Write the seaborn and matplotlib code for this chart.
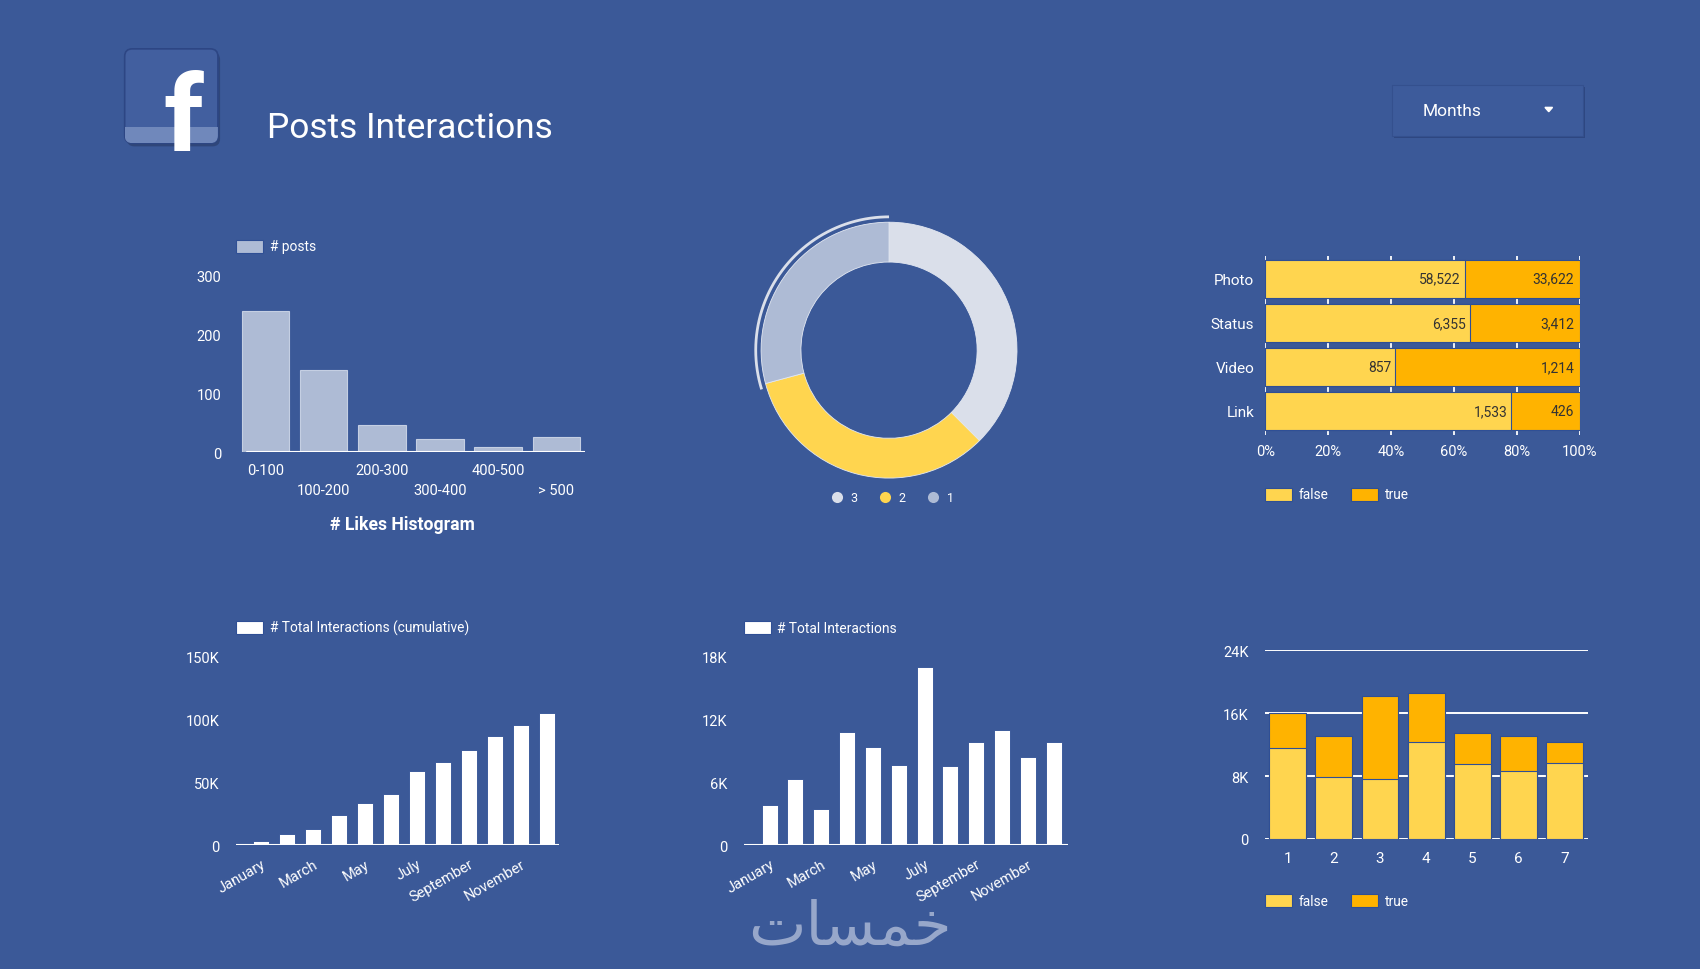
import numpy as np
import seaborn as sns
import matplotlib.pyplot as plt
from matplotlib.patches import FancyBboxPatch, Rectangle, Polygon
from matplotlib.lines import Line2D

# ---- data ----
likes_bins = ['0-100', '100-200', '200-300', '300-400', '400-500', '> 500']
likes_posts = [239, 140, 46, 22, 9, 26]

donut_labels = ['3', '2', '1']
donut_values = [37.5, 33.3, 29.2]

type_names = ['Photo', 'Status', 'Video', 'Link']
type_false = [58522, 6355, 857, 1533]
type_true = [33622, 3412, 1214, 426]

months = ['January', 'February', 'March', 'April', 'May', 'June', 'July',
          'August', 'September', 'October', 'November', 'December']
cumulative = [3400, 9500, 13000, 24000, 34000, 41000, 59000, 66000, 76000, 87000, 96000, 105000]
monthly = [3900, 6300, 3500, 10800, 9400, 7700, 17000, 7600, 9900, 11000, 8400, 9900]

days = ['1', '2', '3', '4', '5', '6', '7']
day_false = [11600, 7900, 7600, 12300, 9500, 8600, 9700]
day_true = [4400, 5200, 10600, 6300, 4000, 4500, 2700]

# ---- style ----
BG = '#3b5998'
EDGE = '#2f4f95'
LIGHT = '#aebbd5'
PALE = '#dadfea'
YEL = '#ffd54f'
ORA = '#ffb300'

sns.set_style('white')
plt.rcParams['font.family'] = ['Roboto', 'DejaVu Sans']
plt.rcParams['text.color'] = 'white'

W, H = 1568, 895  # layout is measured in reference pixels
fig = plt.figure(figsize=(17, 9.7), dpi=100, facecolor=BG)


def panel(l, t, r, b):
    ax = fig.add_axes([l / W, 1 - b / H, (r - l) / W, (b - t) / H])
    ax.set_facecolor('none')
    for s in ax.spines.values():
        s.set_visible(False)
    ax.tick_params(colors='white', length=0, labelsize=10.5)
    ax.set_xlabel('')
    ax.set_ylabel('')
    return ax


def legend_box(x, y, color, label):
    fig.patches.append(Rectangle((x / W, 1 - (y + 6) / H), 25 / W, 12 / H,
                                 transform=fig.transFigure, facecolor=color,
                                 edgecolor=EDGE, lw=0.8))
    fig.text((x + 31) / W, 1 - y / H, label, va='center', ha='left',
             fontsize=9.9, color='white')


def kfmt(v):
    return '0' if v == 0 else f'{int(v / 1000)}K'


# ---- header ----
icon = fig.add_axes([110 / W, 1 - 140 / H, 98 / W, 98 / H])
icon.set_xlim(110, 208)
icon.set_ylim(140, 42)
icon.axis('off')
shadow = FancyBboxPatch((117, 49), 86, 87, boxstyle='round,pad=0,rounding_size=7',
                        facecolor='#2a3f6e', edgecolor='none', alpha=0.7)
icon.add_patch(shadow)
box = FancyBboxPatch((115, 46), 86, 87, boxstyle='round,pad=0,rounding_size=7',
                     facecolor='#425f9f', edgecolor='#2d4684', lw=1.2)
icon.add_patch(box)
band = Rectangle((115, 118), 86, 15, facecolor='#7088bb', edgecolor='none')
icon.add_patch(band)
band.set_clip_path(box)
f = icon.text(169, 142, 'f', fontsize=80, fontweight='bold', color='white',
              ha='center', va='baseline', family=['Roboto', 'DejaVu Sans'])
f.set_clip_on(True)
f.set_clip_path(box)

fig.text(246 / W, 1 - 119 / H, 'Posts Interactions', fontsize=25.4, color='white',
         va='center', ha='left')

dd = fig.add_axes([1280 / W, 1 - 130 / H, 184 / W, 55 / H])
dd.set_xlim(1280, 1464)
dd.set_ylim(130, 75)
dd.axis('off')
dd.add_patch(Rectangle((1286, 81), 176, 47, facecolor='#2e4781', edgecolor='none'))
dd.add_patch(Rectangle((1284, 79), 176, 47, facecolor='#3d5b9b', edgecolor='#34508e', lw=0.8))
dd.text(1312, 103, 'Months', fontsize=12.5, color='white', va='center', ha='left')
dd.add_patch(Polygon([[1425, 100], [1432, 100], [1428.5, 104]], facecolor='white'))

# ---- likes histogram ----
ax = panel(218, 255, 540, 418)
sns.barplot(x=likes_bins, y=likes_posts, color=LIGHT, saturation=1, width=0.82,
            edgecolor='#c5cfe3', linewidth=0.8, ax=ax)
ax.set_ylim(0, 300)
ax.set_xlim(-0.5, 5.5)
ax.set_yticks([0, 100, 200, 300])
ax.tick_params(axis='y', pad=11)
ax.tick_params(axis='x', pad=8)
ax.set_xticks(range(len(likes_bins)))
ax.set_xticklabels([b if i % 2 == 0 else '\n' + b for i, b in enumerate(likes_bins)],
                   linespacing=1.5)
ax.axhline(0, color='white', lw=1.5, xmin=0.03)
ax.set_xlabel('')
legend_box(218, 228, LIGHT, '# posts')
fig.text(371 / W, 1 - 484 / H, '# Likes Histogram', fontsize=12.7, fontweight='bold',
         color='white', ha='center', va='center')

# ---- donut ----
ax = fig.add_axes([(820 - 150) / W, 1 - (324 + 150) / H, 300 / W, 300 / H])
ax.set_facecolor('none')
ax.axis('off')
ax.pie(donut_values, colors=[PALE, YEL, LIGHT], startangle=90, counterclock=False,
       radius=0.787, wedgeprops=dict(width=0.245, edgecolor='#e3e8f2', linewidth=0.6))
start = sum(donut_values[:2]) / sum(donut_values) * 360
theta = np.radians(90 - np.linspace(start - 2, 360, 200))
ax.plot(0.82 * np.cos(theta), 0.82 * np.sin(theta), color=PALE, lw=2, solid_capstyle='butt')
ax.set_xlim(-1, 1)
ax.set_ylim(-1, 1)
handles = [Line2D([], [], marker='o', ls='', markersize=8, markerfacecolor=c,
                  markeredgecolor='none') for c in [PALE, YEL, LIGHT]]
ax.legend(handles, donut_labels, ncol=3, loc='center', bbox_to_anchor=(0.5, 1 - 286 / 300),
          frameon=False, handletextpad=0.1, columnspacing=1.2, labelcolor='white',
          fontsize=9)

# ---- type 100% stacked bars ----
ax = panel(1167, 237, 1457, 402)
tot = [a + b for a, b in zip(type_false, type_true)]
pct_false = [100 * a / t for a, t in zip(type_false, tot)]
sns.barplot(y=type_names, x=[100] * 4, orient='h', color=ORA, saturation=1, width=0.86,
            edgecolor=EDGE, linewidth=0.8, ax=ax)
sns.barplot(y=type_names, x=pct_false, orient='h', color=YEL, saturation=1, width=0.86,
            edgecolor=EDGE, linewidth=0.8, ax=ax)
ax.set_ylim(3.54, -0.52)
ax.set_xlim(0, 100)
ax.set_xticks([0, 20, 40, 60, 80, 100])
ax.set_xticklabels([f'{v}%' for v in [0, 20, 40, 60, 80, 100]])
ax.grid(axis='x', color='white', lw=1.3)
ax.set_axisbelow(True)
ax.tick_params(axis='y', pad=8, labelsize=11)
ax.tick_params(axis='x', pad=7)
for i in range(len(type_names)):
    ax.text(pct_false[i] - 1.3, i, f'{type_false[i]:,}', ha='right', va='center',
            fontsize=10, color='#333333')
    ax.text(98.3, i, f'{type_true[i]:,}', ha='right', va='center', fontsize=10,
            color='#333333')
ax.set_xlabel('')
legend_box(1167, 457, YEL, 'false')
legend_box(1246, 457, ORA, 'true')

# ---- cumulative interactions ----
month_labels = [m if i % 2 == 0 else '' for i, m in enumerate(months)]

ax = panel(218, 607, 516, 781)
sns.barplot(x=months, y=cumulative, color='white', saturation=1, width=0.62,
            edgecolor=EDGE, linewidth=0.6, ax=ax)
ax.set_ylim(0, 150000)
ax.set_xlim(-0.96, 11.48)
ax.set_yticks([0, 50000, 100000, 150000])
ax.set_yticklabels([kfmt(v) for v in [0, 50000, 100000, 150000]])
ax.set_xticks(range(12))
ax.set_xticklabels(month_labels, rotation=30, ha='right', rotation_mode='anchor')
ax.tick_params(axis='y', pad=12)
ax.tick_params(axis='x', pad=8)
ax.axhline(0, color='white', lw=1.5)
legend_box(218, 580, 'white', '# Total Interactions (cumulative)')

# ---- monthly interactions ----
ax = panel(686, 607, 985, 781)
sns.barplot(x=months, y=monthly, color='white', saturation=1, width=0.62,
            edgecolor=EDGE, linewidth=0.6, ax=ax)
ax.set_ylim(0, 18000)
ax.set_xlim(-1.0, 11.55)
ax.set_yticks([0, 6000, 12000, 18000])
ax.set_yticklabels([kfmt(v) for v in [0, 6000, 12000, 18000]])
ax.set_xticks(range(12))
ax.set_xticklabels(month_labels, rotation=30, ha='right', rotation_mode='anchor')
ax.tick_params(axis='y', pad=12)
ax.tick_params(axis='x', pad=8)
ax.axhline(0, color='white', lw=1.5)
legend_box(686, 580, 'white', '# Total Interactions')

# ---- stacked by day ----
ax = panel(1167, 601, 1465, 775)
day_tot = [a + b for a, b in zip(day_false, day_true)]
sns.barplot(x=days, y=day_tot, color=ORA, saturation=1, width=0.8,
            edgecolor=EDGE, linewidth=0.8, ax=ax)
sns.barplot(x=days, y=day_false, color=YEL, saturation=1, width=0.8,
            edgecolor=EDGE, linewidth=0.8, ax=ax)
ax.set_ylim(0, 24000)
ax.set_xlim(-0.49, 6.52)
ax.set_yticks([0, 8000, 16000, 24000])
ax.set_yticklabels([kfmt(v) for v in [0, 8000, 16000, 24000]])
ax.grid(axis='y', color='white', lw=1.4)
ax.set_axisbelow(True)
ax.tick_params(axis='y', pad=12)
ax.tick_params(axis='x', pad=9, labelsize=11)
ax.set_xlabel('')
legend_box(1167, 832, YEL, 'false')
legend_box(1246, 832, ORA, 'true')

# watermark
fig.text(784 / W, 1 - 856 / H, '\ufe95\ufe8e\ufeb4\ufee4\ufea7', fontsize=44,
         color='#b7c2dc', alpha=0.75, ha='center', va='center', family=['DejaVu Sans'])

fig.savefig('out.png', dpi=100, facecolor=BG)
